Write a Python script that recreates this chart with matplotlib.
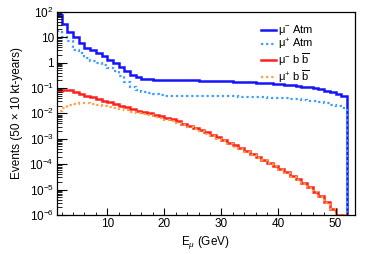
import matplotlib
matplotlib.use("Agg")
import matplotlib.pyplot as plt
import numpy as np
from matplotlib.ticker import FixedLocator, NullFormatter

plt.rcParams['font.family'] = ['Liberation Sans', 'DejaVu Sans']
plt.rcParams['mathtext.fontset'] = 'custom'
plt.rcParams['mathtext.rm'] = 'Liberation Sans'
plt.rcParams['mathtext.it'] = 'Liberation Sans:italic'

# 1 GeV bins, lower edges 1..51
edges = np.arange(1, 53, 1)

mu_minus_atm = [76, 34, 16.6, 10, 5.9, 3.7, 3.0, 2.3, 1.75, 1.3,
                0.95, 0.66, 0.45, 0.33, 0.27, 0.235, 0.215, 0.205, 0.2, 0.2,
                0.2, 0.2, 0.2, 0.2, 0.198, 0.196, 0.194, 0.191, 0.188, 0.185,
                0.181, 0.177, 0.173, 0.169, 0.165, 0.16, 0.155, 0.15, 0.145, 0.14,
                0.134, 0.127, 0.12, 0.112, 0.104, 0.096, 0.088, 0.078, 0.068, 0.058,
                0.047]
mu_plus_atm = [18, 10, 6.8, 3.2, 2.4, 1.5, 1.2, 1.0, 0.8, 0.6,
               0.45, 0.3, 0.17, 0.11, 0.085, 0.07, 0.062, 0.057, 0.053, 0.05,
               0.049, 0.049, 0.049, 0.049, 0.049, 0.049, 0.048, 0.048, 0.048, 0.048,
               0.047, 0.047, 0.046, 0.046, 0.045, 0.044, 0.043, 0.042, 0.041, 0.04,
               0.039, 0.037, 0.036, 0.034, 0.032, 0.03, 0.028, 0.025, 0.022, 0.019,
               0.016]
log_mu_minus_bb = [-1.14, -1.07, -1.10, -1.16, -1.23, -1.31, -1.36, -1.44, -1.50, -1.57,
                   -1.62, -1.70, -1.75, -1.83, -1.89, -1.95, -2.00, -2.05, -2.10, -2.17,
                   -2.24, -2.32, -2.40, -2.48, -2.56, -2.64, -2.74, -2.84, -2.95, -3.05,
                   -3.15, -3.26, -3.38, -3.48, -3.59, -3.70, -3.82, -3.94, -4.06, -4.19,
                   -4.32, -4.46, -4.60, -4.75, -4.91, -5.08, -5.26, -5.48, -5.75, -6.00,
                   -6.00]
log_mu_plus_bb = [-1.92, -1.80, -1.68, -1.62, -1.60, -1.60, -1.62, -1.66, -1.71, -1.76,
                  -1.80, -1.84, -1.88, -1.93, -1.98, -2.03, -2.08, -2.13, -2.18, -2.25,
                  -2.32, -2.39, -2.47, -2.55, -2.63, -2.71, -2.80, -2.90, -3.00, -3.10,
                  -3.20, -3.31, -3.42, -3.52, -3.63, -3.74, -3.85, -3.97, -4.09, -4.22,
                  -4.35, -4.49, -4.63, -4.78, -4.94, -5.11, -5.30, -5.52, -5.78, -6.00,
                  -6.00]
mu_minus_bb = 10.0 ** np.array(log_mu_minus_bb)
mu_plus_bb = 10.0 ** np.array(log_mu_plus_bb)

fig = plt.figure(figsize=(3.74, 2.54), dpi=100)
ax = fig.add_axes([0.1516, 0.1535, 0.7974, 0.8005])

ax.stairs(mu_minus_atm, edges, baseline=1e-9, color='#1414ff', lw=1.8, label='μ$^{-}$ Atm')
ax.stairs(mu_plus_atm, edges, baseline=1e-9, color='#3d9cff', lw=1.6, ls=(0, (1, 1.3)), label='μ$^{+}$ Atm')
ax.stairs(mu_minus_bb, edges, baseline=1e-9, color='#ff2020', lw=1.8, label=r'μ$^{-}$ b $\overline{\mathrm{b}}$')
ax.stairs(mu_plus_bb, edges, baseline=1e-9, color='#ffa040', lw=1.6, ls=(0, (1, 1.3)), label=r'μ$^{+}$ b $\overline{\mathrm{b}}$')

ax.set_yscale('log')
ax.set_xlim(1.15, 53.4)
ax.set_ylim(1e-6, 1e2)

ax.set_xticks([10, 20, 30, 40, 50])
ax.xaxis.set_minor_locator(FixedLocator(np.arange(2, 54, 2)))
ax.set_yticks([10.0 ** k for k in range(-6, 3)])
ax.set_yticklabels([r'$10^{-6}$', r'$10^{-5}$', r'$10^{-4}$', r'$10^{-3}$', r'$10^{-2}$',
                    r'$10^{-1}$', '1', '10', r'$10^{2}$'])
ax.yaxis.set_minor_formatter(NullFormatter())
ax.tick_params(which='both', direction='in', top=False, right=False, labelsize=8.5, pad=2)
ax.tick_params(axis='x', which='major', length=5)
ax.tick_params(axis='x', which='minor', length=2.5)
ax.tick_params(axis='y', which='major', length=7)
ax.tick_params(axis='y', which='minor', length=3.5)
for s in ax.spines.values():
    s.set_linewidth(0.9)

ax.set_xlabel('E$_{\u03bc}$ (GeV)', fontsize=8.5, labelpad=3)
ax.set_ylabel('Events (50 \u00d7 10 kt-years)', fontsize=8.5, labelpad=5)

ax.legend(loc='upper right', bbox_to_anchor=(0.885, 0.975), frameon=False, fontsize=8,
          handlelength=1.3, handletextpad=0.25, labelspacing=-0.05, borderpad=0.1)

fig.savefig('out.png', dpi=100)
